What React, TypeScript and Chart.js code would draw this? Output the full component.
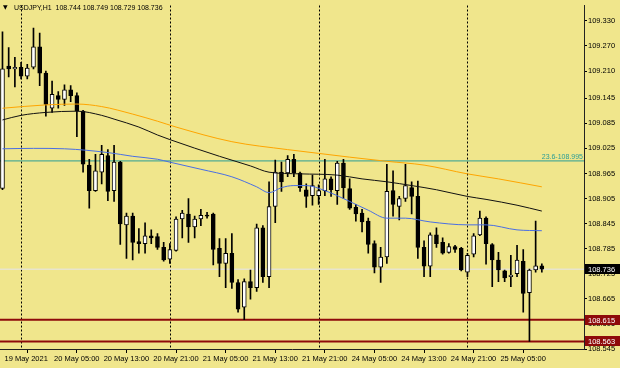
import React, { useEffect, useRef } from 'react';
import { Chart, registerables } from 'chart.js';

Chart.register(...registerables);

// ---- data ----
const symbol = 'USDJPY,H1';

const open = [
  108.929, 109.222, 109.215, 109.219, 109.198, 109.219, 109.268, 109.205, 109.121, 109.151,
  109.142, 109.165, 109.151, 109.114, 108.985, 108.924, 108.968, 109.008, 108.924, 108.992,
  108.842, 108.863, 108.802, 108.797, 108.816, 108.814, 108.788, 108.760, 108.781, 108.856,
  108.868, 108.837, 108.856, 108.865, 108.868, 108.786, 108.750, 108.774, 108.704, 108.645,
  108.706, 108.692, 108.835, 108.718, 108.886, 108.968, 108.966, 108.999, 108.966, 108.926,
  108.912, 108.912, 108.924, 108.952, 108.924, 108.990, 108.929, 108.884, 108.870, 108.851,
  108.797, 108.741, 108.765, 108.924, 108.886, 108.905, 108.931, 108.910, 108.788, 108.743,
  108.818, 108.800, 108.776, 108.790, 108.786, 108.729, 108.772, 108.818, 108.858, 108.795,
  108.758, 108.732, 108.718, 108.725, 108.755, 108.680, 108.734, 108.744,
];
const high = [
  109.304, 109.266, 109.243, 109.231, 109.226, 109.313, 109.301, 109.210, 109.186, 109.161,
  109.177, 109.175, 109.158, 109.116, 108.999, 109.011, 109.032, 109.022, 109.032, 108.994,
  108.870, 108.870, 108.833, 108.847, 108.830, 108.821, 108.800, 108.797, 108.861, 108.877,
  108.905, 108.863, 108.879, 108.872, 108.870, 108.809, 108.809, 108.821, 108.711, 108.713,
  108.734, 108.844, 108.840, 108.945, 108.997, 108.992, 109.008, 109.011, 108.968, 108.940,
  108.961, 108.938, 108.999, 108.957, 108.994, 108.999, 108.952, 108.891, 108.879, 108.858,
  108.804, 108.788, 108.987, 108.971, 108.910, 108.987, 108.945, 108.947, 108.804, 108.823,
  108.835, 108.811, 108.797, 108.793, 108.788, 108.774, 108.821, 108.875, 108.861, 108.797,
  108.776, 108.734, 108.769, 108.793, 108.783, 108.736, 108.851, 108.749,
];
const low = [
  108.926, 109.196, 109.172, 109.191, 109.191, 109.215, 109.175, 109.102, 109.111, 109.121,
  109.128, 109.137, 109.053, 108.968, 108.882, 108.922, 108.940, 108.900, 108.898, 108.795,
  108.762, 108.758, 108.774, 108.774, 108.797, 108.783, 108.755, 108.750, 108.779, 108.811,
  108.800, 108.811, 108.840, 108.858, 108.746, 108.718, 108.692, 108.690, 108.633, 108.615,
  108.664, 108.683, 108.704, 108.692, 108.847, 108.922, 108.957, 108.957, 108.922, 108.884,
  108.889, 108.891, 108.912, 108.910, 108.891, 108.905, 108.879, 108.851, 108.825, 108.774,
  108.727, 108.704, 108.750, 108.863, 108.854, 108.898, 108.868, 108.762, 108.718, 108.718,
  108.788, 108.772, 108.774, 108.776, 108.732, 108.718, 108.765, 108.816, 108.748, 108.694,
  108.706, 108.706, 108.694, 108.718, 108.633, 108.563, 108.729, 108.729,
];
const close = [
  109.215, 109.215, 109.219, 109.198, 109.217, 109.268, 109.205, 109.130, 109.154, 109.142,
  109.165, 109.151, 109.114, 108.987, 108.924, 108.971, 109.011, 108.922, 108.992, 108.844,
  108.863, 108.800, 108.797, 108.816, 108.811, 108.788, 108.758, 108.783, 108.856, 108.870,
  108.837, 108.856, 108.865, 108.863, 108.783, 108.750, 108.774, 108.704, 108.640, 108.706,
  108.692, 108.835, 108.718, 108.886, 108.968, 108.945, 108.999, 108.966, 108.931, 108.910,
  108.936, 108.924, 108.952, 108.926, 108.990, 108.931, 108.882, 108.868, 108.849, 108.795,
  108.741, 108.765, 108.922, 108.891, 108.905, 108.936, 108.910, 108.788, 108.743, 108.818,
  108.797, 108.774, 108.790, 108.783, 108.734, 108.769, 108.816, 108.858, 108.797, 108.758,
  108.734, 108.715, 108.722, 108.758, 108.678, 108.734, 108.744, 108.736,
];

// moving averages (bar index, value)
const maBlackIdx = [0, 3, 7, 12, 16, 18, 22, 25, 27, 35, 40, 43, 48, 54, 58, 62, 66, 70, 75, 78, 83, 87];
const maBlackVal = [109.093, 109.104, 109.111, 109.114, 109.104, 109.095, 109.076, 109.057, 109.046, 109.006, 108.983, 108.968, 108.964, 108.961, 108.952, 108.945, 108.936, 108.926, 108.910, 108.903, 108.889, 108.875];
const maOrangeIdx = [0, 7, 12, 16, 21, 25, 28, 37, 46, 51, 56, 62, 68, 75, 80, 87];
const maOrangeVal = [109.121, 109.129, 109.131, 109.125, 109.107, 109.090, 109.076, 109.041, 109.022, 109.013, 109.004, 108.994, 108.985, 108.964, 108.952, 108.933];
const maBlueIdx = [0, 5, 10, 17, 21, 25, 27, 32, 37, 41, 43, 45, 47, 49, 52, 56, 59, 62, 65, 69, 75, 78, 83, 87];
const maBlueVal = [109.024, 109.025, 109.024, 109.015, 109.006, 108.999, 108.992, 108.975, 108.957, 108.933, 108.919, 108.931, 108.936, 108.936, 108.924, 108.898, 108.877, 108.858, 108.858, 108.849, 108.842, 108.842, 108.830, 108.828];

const timeTickIndex = [0, 8, 16, 24, 32, 40, 48, 56, 64, 72, 80];
const timeTickLabels = [
  '19 May 2021', '20 May 05:00', '20 May 13:00', '20 May 21:00', '21 May 05:00', '21 May 13:00',
  '21 May 21:00', '24 May 05:00', '24 May 13:00', '24 May 21:00', '25 May 05:00',
];
const daySeparators = [3, 27, 51, 75];
const priceTicks = [109.330, 109.270, 109.210, 109.145, 109.085, 109.025, 108.965, 108.905, 108.845, 108.785, 108.725, 108.665, 108.605, 108.545];

const fiboName = '23.6';
const fiboLevel = 108.995;
const supportLevels = [108.615, 108.563];

// ---- styling ----
const BG = '#F0E68C';
const FIBO_COLOR = '#2A9D96';
const RED = '#8E0A0A';
const BID_COLOR = '#E4E4EE';
const X_MIN = -0.4;
const X_MAX = 93.8;
const Y_MIN = 108.545;
const Y_MAX = 109.3668;
const AXIS_FONT = { family: "'Liberation Sans', Arial, sans-serif", size: 7.5 };

const overlayPlugin = {
  id: 'mtOverlay',
  beforeDraw(chart: any) {
    const { ctx, width, height } = chart;
    ctx.save();
    ctx.fillStyle = BG;
    ctx.fillRect(0, 0, width, height);
    ctx.restore();
  },
  beforeDatasetsDraw(chart: any) {
    const { ctx, chartArea, scales } = chart;
    ctx.save();
    ctx.strokeStyle = '#000';
    ctx.lineWidth = 1;
    ctx.setLineDash([2, 2]);
    daySeparators.forEach((i) => {
      const x = Math.round(scales.x.getPixelForValue(i)) + 0.5;
      ctx.beginPath();
      ctx.moveTo(x, chartArea.top);
      ctx.lineTo(x, chartArea.bottom);
      ctx.stroke();
    });
    ctx.restore();
  },
  afterDraw(chart: any) {
    const { ctx, chartArea, scales } = chart;
    const ys = scales.y;
    const last = close.length - 1;
    ctx.save();
    ctx.fillStyle = '#000';
    ctx.textAlign = 'left';
    ctx.textBaseline = 'alphabetic';
    ctx.font = "6px 'DejaVu Sans'";
    ctx.fillText('▼', 3, 9);
    ctx.font = "7px 'Liberation Sans', Arial, sans-serif";
    ctx.fillText(
      `${symbol}  ${open[last].toFixed(3)} ${high[last].toFixed(3)} ${low[last].toFixed(3)} ${close[last].toFixed(3)}`,
      14, 10
    );
    // fibo label
    ctx.fillStyle = FIBO_COLOR;
    ctx.textAlign = 'right';
    ctx.fillText(`${fiboName}-${fiboLevel.toFixed(3)}`, chartArea.right - 1, ys.getPixelForValue(fiboLevel) - 2);
    // price boxes
    const boxes: [number, string][] = [[close[last], '#000'], ...supportLevels.map((v) => [v, RED] as [number, string])];
    ctx.font = "7.5px 'Liberation Sans', Arial, sans-serif";
    ctx.textAlign = 'left';
    ctx.textBaseline = 'middle';
    boxes.forEach(([v, bg]) => {
      const py = Math.round(ys.getPixelForValue(v));
      ctx.fillStyle = bg;
      ctx.fillRect(chartArea.right + 1, py - 5, 35, 10);
      ctx.fillStyle = '#fff';
      ctx.fillText(v.toFixed(3), chartArea.right + 4, py + 0.5);
    });
    ctx.restore();
  },
};

export default function App() {
  const canvasRef = useRef<HTMLCanvasElement | null>(null);

  useEffect(() => {
    document.body.style.margin = '0';
    const canvas = canvasRef.current;
    if (!canvas) return;

    const idx = close.map((_, i) => i);
    const wickData = idx.map((i) => ({ x: i, y: [low[i], high[i]] }));
    const bodyData = idx.map((i) => ({ x: i, y: [open[i], close[i]] }));
    const bull = idx.map((i) => close[i] >= open[i]);
    const hLine = (v: number) => [{ x: X_MIN, y: v }, { x: X_MAX, y: v }];
    const maLine = (xs: number[], vs: number[]) => xs.map((x, k) => ({ x, y: vs[k] }));
    const last = close.length - 1;

    const lineBase = {
      type: 'line' as const,
      pointRadius: 0,
      borderWidth: 1,
      fill: false,
    };

    const chart = new Chart(canvas, {
      type: 'bar',
      data: {
        datasets: [
          { ...lineBase, data: maLine(maBlackIdx, maBlackVal), borderColor: '#111', cubicInterpolationMode: 'monotone', order: 1 } as any,
          { ...lineBase, data: maLine(maOrangeIdx, maOrangeVal), borderColor: '#FFA500', cubicInterpolationMode: 'monotone', order: 1 } as any,
          { ...lineBase, data: maLine(maBlueIdx, maBlueVal), borderColor: '#4A6FE3', cubicInterpolationMode: 'monotone', order: 1 } as any,
          {
            type: 'bar', data: bodyData as any, grouped: false, barThickness: 4, minBarLength: 1,
            backgroundColor: bull.map((b) => (b ? '#fff' : '#000')), borderColor: '#000', borderWidth: 1,
            borderSkipped: false, order: 4,
          } as any,
          {
            type: 'bar', data: wickData as any, grouped: false, barThickness: 1,
            backgroundColor: '#000', borderWidth: 0, order: 5,
          } as any,
          { ...lineBase, data: hLine(fiboLevel), borderColor: FIBO_COLOR, order: 8 } as any,
          { ...lineBase, data: hLine(close[last]), borderColor: BID_COLOR, order: 8 } as any,
          ...supportLevels.map((v) => ({ ...lineBase, data: hLine(v), borderColor: RED, borderWidth: 2, order: 8 } as any)),
        ],
      },
      options: {
        animation: false,
        responsive: false,
        maintainAspectRatio: false,
        events: [],
        layout: { padding: 0, autoPadding: false },
        plugins: { legend: { display: false }, tooltip: { enabled: false }, title: { display: false } },
        scales: {
          x: {
            type: 'linear',
            min: X_MIN,
            max: X_MAX,
            offset: false,
            grid: { drawOnChartArea: false, drawTicks: true, tickLength: 4, color: '#000' },
            border: { display: true, color: '#222', width: 1 },
            ticks: {
              autoSkip: false,
              maxRotation: 0,
              minRotation: 0,
              align: 'start',
              labelOffset: 2,
              padding: 1,
              color: '#000',
              font: AXIS_FONT,
              callback: (v: any) => {
                const k = timeTickIndex.indexOf(Number(v));
                return k >= 0 ? timeTickLabels[k] : '';
              },
            },
            afterBuildTicks: (s: any) => {
              s.ticks = timeTickIndex.map((v) => ({ value: v }));
            },
            afterFit: (s: any) => {
              s.height = 19;
            },
          } as any,
          y: {
            type: 'linear',
            position: 'right',
            min: Y_MIN,
            max: Y_MAX,
            grid: { drawOnChartArea: false, drawTicks: true, tickLength: 3, color: '#000' },
            border: { display: true, color: '#222', width: 1 },
            ticks: {
              padding: 1,
              color: '#000',
              font: AXIS_FONT,
              callback: (v: any) => Number(v).toFixed(3),
            },
            afterBuildTicks: (s: any) => {
              s.ticks = priceTicks.map((v) => ({ value: v }));
            },
            afterFit: (s: any) => {
              s.width = 36;
            },
          } as any,
        },
      },
      plugins: [overlayPlugin],
    });

    return () => chart.destroy();
  }, []);

  return (
    <div style={{ width: 620, height: 368, position: 'relative', background: BG }}>
      <canvas ref={canvasRef} width={620} height={368} style={{ display: 'block' }} />
    </div>
  );
}
